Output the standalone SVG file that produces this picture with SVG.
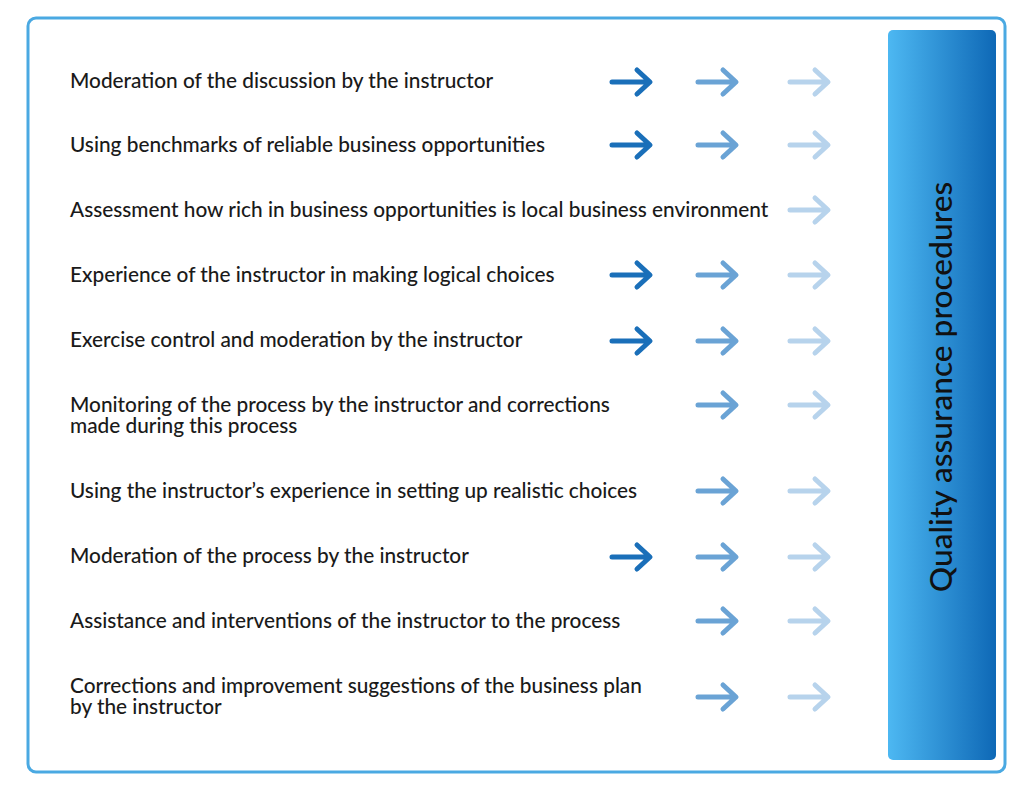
<svg xmlns="http://www.w3.org/2000/svg" width="1024" height="793" viewBox="0 0 1024 793">
<defs>
<linearGradient id="g" x1="0" y1="0" x2="1" y2="0"><stop offset="0" stop-color="#4db8f2"/><stop offset="1" stop-color="#0e68b6"/></linearGradient>
<g id="ar"><path d="M-19 0H18M6-12L19 0L6 12" fill="none" stroke-width="5" stroke-linecap="round" stroke-linejoin="round"/></g>
</defs>
<style>
text{font-family:Lato,"Open Sans",sans-serif;font-size:20.8px;font-weight:500;fill:#1a1a1a}
.a1{stroke:#1a6fb9}.a2{stroke:#6aa3d5}.a3{stroke:#b7d3ec}
</style>
<rect width="1024" height="793" fill="#fff"/>
<rect x="28" y="18" width="977" height="754" rx="8" fill="none" stroke="#4aa9e2" stroke-width="3"/>
<g id="qa"><rect x="888" y="30" width="108" height="730" rx="5" fill="url(#g)"/>
<text transform="translate(952 387) rotate(-90)" text-anchor="middle" style="font-size:31.7px;fill:#111">Quality assurance procedures</text></g>
<g id="rows">
<text x="70" y="88">Moderation of the discussion by the instructor</text>
<text x="70" y="152">Using benchmarks of reliable business opportunities</text>
<text x="70" y="217">Assessment how rich in business opportunities is local business environment</text>
<text x="70" y="282">Experience of the instructor in making logical choices</text>
<text x="70" y="347">Exercise control and moderation by the instructor</text>
<text x="70" y="412">Monitoring of the process by the instructor and corrections</text>
<text x="70" y="433">made during this process</text>
<text x="70" y="498">Using the instructor’s experience in setting up realistic choices</text>
<text x="70" y="563">Moderation of the process by the instructor</text>
<text x="70" y="628">Assistance and interventions of the instructor to the process</text>
<text x="70" y="693">Corrections and improvement suggestions of the business plan</text>
<text x="70" y="714">by the instructor</text>
</g>
<g id="connectors">
<use href="#ar" class="a1" x="631" y="82"/><use href="#ar" class="a2" x="717" y="82"/><use href="#ar" class="a3" x="809" y="82"/>
<use href="#ar" class="a1" x="631" y="145"/><use href="#ar" class="a2" x="717" y="145"/><use href="#ar" class="a3" x="809" y="145"/>
<use href="#ar" class="a3" x="809" y="210"/>
<use href="#ar" class="a1" x="631" y="275"/><use href="#ar" class="a2" x="717" y="275"/><use href="#ar" class="a3" x="809" y="275"/>
<use href="#ar" class="a1" x="631" y="341"/><use href="#ar" class="a2" x="717" y="341"/><use href="#ar" class="a3" x="809" y="341"/>
<use href="#ar" class="a2" x="717" y="405"/><use href="#ar" class="a3" x="809" y="405"/>
<use href="#ar" class="a2" x="717" y="491"/><use href="#ar" class="a3" x="809" y="491"/>
<use href="#ar" class="a1" x="631" y="557"/><use href="#ar" class="a2" x="717" y="557"/><use href="#ar" class="a3" x="809" y="557"/>
<use href="#ar" class="a2" x="717" y="621"/><use href="#ar" class="a3" x="809" y="621"/>
<use href="#ar" class="a2" x="717" y="697"/><use href="#ar" class="a3" x="809" y="697"/>
</g>
</svg>
